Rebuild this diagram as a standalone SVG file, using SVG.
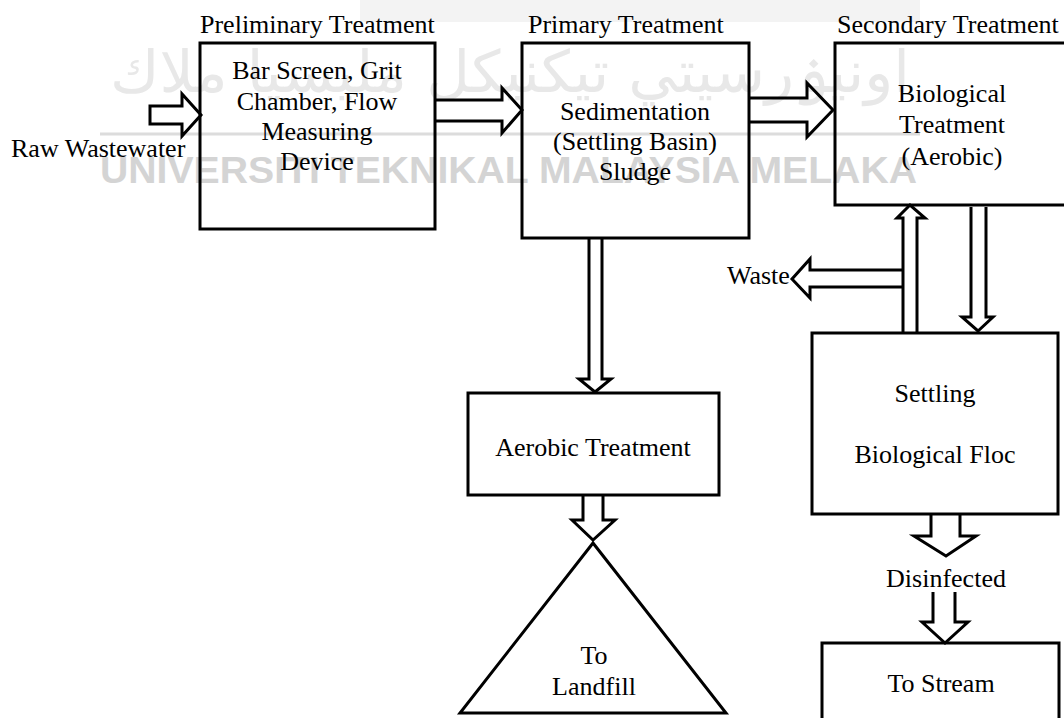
<svg xmlns="http://www.w3.org/2000/svg" width="1064" height="718" viewBox="0 0 1064 718">
<style>
.t{font-family:"Liberation Serif","Times New Roman",serif;font-size:26px;fill:#000}
.c{text-anchor:middle}
.box{fill:none;stroke:#000;stroke-width:3}
.arr{fill:none;stroke:#000;stroke-width:3;stroke-linejoin:miter}
.wm{font-family:"Liberation Sans",Arial,sans-serif;font-weight:bold;font-size:37px;fill:#d4d4d4}
.wmj{font-family:"DejaVu Sans","Noto Sans",sans-serif;font-size:58px;fill:#e8e8e8}
</style>
<rect width="1064" height="718" fill="#fff"/>
<g id="watermark">
<rect x="360" y="0" width="560" height="22" fill="#f3f3f3"/>
<text class="wmj" x="110" y="92" textLength="800" lengthAdjust="spacingAndGlyphs">اونيۏرسيتي تيكنيكل مليسيا ملاك</text>
<line x1="100" y1="134" x2="920" y2="134" stroke="#dcdcdc" stroke-width="3"/>
<text class="wm" x="100" y="183" textLength="817" lengthAdjust="spacingAndGlyphs">UNIVERSITI TEKNIKAL MALAYSIA MELAKA</text>
</g>
<g id="labels">
<text class="t" x="200" y="33">Preliminary Treatment</text>
<text class="t" x="528" y="33">Primary Treatment</text>
<text class="t" x="837" y="33">Secondary Treatment</text>
<text class="t" x="11" y="157">Raw Wastewater</text>
<text class="t" x="727" y="284">Waste</text>
<text class="t c" x="946" y="587">Disinfected</text>
</g>
<g id="preliminary">
<rect class="box" x="200" y="43" width="235" height="186"/>
<text class="t c" x="317" y="79">Bar Screen, Grit</text>
<text class="t c" x="317" y="110">Chamber, Flow</text>
<text class="t c" x="317" y="140">Measuring</text>
<text class="t c" x="317" y="170">Device</text>
</g>
<g id="primary">
<rect class="box" x="522" y="43" width="227" height="195"/>
<text class="t c" x="635" y="120">Sedimentation</text>
<text class="t c" x="635" y="150">(Settling Basin)</text>
<text class="t c" x="635" y="180">Sludge</text>
</g>
<g id="secondary">
<rect class="box" x="835" y="43" width="235" height="162"/>
<text class="t c" x="952" y="102">Biological</text>
<text class="t c" x="952" y="133">Treatment</text>
<text class="t c" x="952" y="165">(Aerobic)</text>
</g>
<g id="aerobic">
<rect class="box" x="468" y="393" width="251" height="102"/>
<text class="t c" x="593" y="456">Aerobic Treatment</text>
</g>
<g id="landfill">
<polygon class="box" points="593,543 726,713 460,713"/>
<text class="t c" x="594" y="664">To</text>
<text class="t c" x="594" y="695">Landfill</text>
</g>
<g id="settling">
<rect class="box" x="812" y="333" width="246" height="181"/>
<text class="t c" x="935" y="402">Settling</text>
<text class="t c" x="935" y="463">Biological Floc</text>
</g>
<g id="stream">
<rect class="box" x="822" y="643" width="237" height="90"/>
<text class="t c" x="941" y="692">To Stream</text>
</g>
<g id="connectors">
<polygon class="arr" points="150,106 182,106 182,94 201,115 182,136 182,124 150,124"/>
<path class="arr" d="M435,100 H502 V88 L522,110 L502,133 V121 H435"/>
<path class="arr" d="M749,98 H807 V83 L833,110 L807,137 V122 H749"/>
<path class="arr" d="M589,238 V379 H579 L595,392 L611,379 H602 V238"/>
<path class="arr" d="M583,495 V520 H572 L593,540 L615,520 H603 V495"/>
<path class="arr" d="M903,270 H810 V259 L792,279 L810,298 V287 H903"/>
<path class="arr" d="M903,332 V218 H897 L910,205 L925,218 H917 V332"/>
<path class="arr" d="M971,207 V317 H962 L978,331 L993,317 H986 V207"/>
<path class="arr" d="M931,514 V536 H914 L946,556 L976,536 H960 V514"/>
<path class="arr" d="M933,592 V622 H922 L945,643 L968,622 H955 V592"/>
</g>
</svg>
